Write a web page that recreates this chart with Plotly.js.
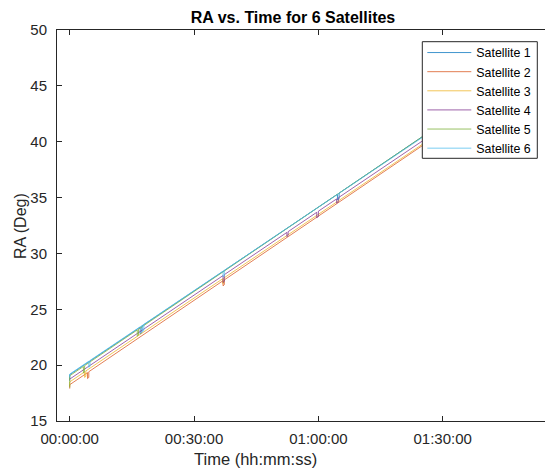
<!DOCTYPE html>
<html>
<head>
<meta charset="utf-8">
<script src="https://cdn.plot.ly/plotly-3.0.1.min.js"></script>
<style>
  html, body { margin: 0; padding: 0; overflow: hidden; background: #fff; }
  #chart { width: 600px; height: 473px; }
</style>
</head>
<body>
<div id="chart"></div>
<script>
// Right ascension of six satellites over a ~100 minute pass.
// Times are minutes after 00:00:00; RA in degrees.
const satNames = ['Satellite 1', 'Satellite 2', 'Satellite 3', 'Satellite 4', 'Satellite 5', 'Satellite 6'];
const satColors = ['#0072BD', '#D95319', '#EDB120', '#7E2F8E', '#77AC30', '#4DBEEE'];

const t1 = [0, 0, 17, 17, 17.4, 17.4, 64.6, 64.6, 65, 65, 100];
const ra1 = [18.6, 19.15, 23.4, 22.8, 22.9, 23.5, 35.3, 34.8, 34.9, 35.4, 44.2];

const t2 = [0, 0, 4.3, 4.3, 4.6, 4.6, 37, 37, 37.3, 37.3, 100];
const ra2 = [17.9, 18.25, 19.33, 18.8, 18.9, 19.41, 27.56, 27.1, 27.2, 27.63, 43.4];

const t3 = [0, 0, 3.6, 3.6, 3.9, 3.9, 36.9, 36.9, 37.2, 37.2, 100];
const ra3 = [18.1, 18.5, 19.4, 18.9, 19.0, 19.48, 27.73, 27.3, 27.4, 27.8, 43.5];

const t4 = [0, 37, 37, 37.3, 37.3, 52.4, 52.4, 52.7, 52.7, 59.6, 59.6, 60, 60, 64.4, 64.4, 64.8, 64.8, 100];
const ra4 = [18.75, 28.02, 27.4, 27.5, 28.1, 31.88, 31.5, 31.6, 31.95, 33.68, 33.2, 33.3, 33.78, 34.88, 34.5, 34.6, 34.98, 43.8];

const t5 = [0, 0, 3.3, 3.3, 3.6, 3.6, 16.3, 16.3, 16.6, 16.6, 100];
const ra5 = [18.0, 19.05, 19.88, 19.3, 19.4, 19.96, 23.15, 22.6, 22.7, 23.22, 44.2];

const t6 = [0, 0, 4.6, 4.6, 4.9, 4.9, 17.6, 17.6, 17.9, 17.9, 37, 37, 37.3, 37.3, 100];
const ra6 = [18.9, 19.2, 20.35, 19.8, 19.9, 20.42, 23.58, 23.0, 23.1, 23.66, 28.41, 27.9, 28.0, 28.48, 44.1];

const satTimes = [t1, t2, t3, t4, t5, t6];
const satRA = [ra1, ra2, ra3, ra4, ra5, ra6];

// minutes -> date string on a fixed reference day, shown as hh:mm:ss
const base = Date.UTC(2000, 0, 1);
function toDate(m) {
  return new Date(base + Math.round(m * 60000)).toISOString().replace('T', ' ').replace('Z', '');
}

const traces = satNames.map((name, i) => ({
  type: 'scatter',
  mode: 'lines',
  name: name,
  x: satTimes[i].map(toDate),
  y: satRA[i],
  line: { color: satColors[i], width: 1 },
  opacity: 0.75,
  hoverinfo: 'skip'
}));

const W = 600, H = 473;
const L = 57, T = 30, R = 40, B = 52;
const plotW = W - L - R, plotH = H - T - B;
const font = 'Liberation Sans, Arial, Helvetica, sans-serif';
const axisColor = '#262626';

// pixel -> paper helpers for placing the legend frame and labels
const px = v => (v - L) / plotW;
const py = v => (T + plotH - v) / plotH;

const layout = {
  width: W,
  height: H,
  margin: { l: L, r: R, t: T, b: B, pad: 0 },
  paper_bgcolor: '#fff',
  plot_bgcolor: '#fff',
  font: { family: font, size: 15, color: axisColor },
  showlegend: true,
  title: {
    text: '<b>RA vs. Time for 6 Satellites</b>',
    font: { family: font, size: 16, color: '#000' },
    xref: 'container', x: 293 / W, xanchor: 'center',
    yref: 'container', y: 1 - 17.5 / H, yanchor: 'middle'
  },
  xaxis: {
    type: 'date',
    range: [toDate(-3.07), toDate(118.3)],
    tick0: toDate(0),
    dtick: 1800000,
    tickformat: '%H:%M:%S',
    ticks: 'inside', ticklen: 5, tickwidth: 1, tickcolor: axisColor,
    showline: true, linecolor: axisColor, linewidth: 1, mirror: 'ticks',
    showgrid: false, zeroline: false,
    tickfont: { family: font, size: 15, color: axisColor },
    ticklabelstandoff: 4
  },
  yaxis: {
    range: [15, 50],
    dtick: 5,
    ticks: 'inside', ticklen: 5, tickwidth: 1, tickcolor: axisColor,
    showline: true, linecolor: axisColor, linewidth: 1, mirror: 'ticks',
    showgrid: false, zeroline: false,
    tickfont: { family: font, size: 15, color: axisColor },
    ticklabelstandoff: 6
  },
  legend: {
    x: px(422.3), xanchor: 'left',
    y: py(38), yanchor: 'top',
    bgcolor: 'rgba(0,0,0,0)', borderwidth: 0,
    font: { family: font, size: 12.4, color: '#000' },
    itemwidth: 44
  },
  shapes: [
    {
      // legend frame, opaque so the lines pass behind it
      type: 'rect', xref: 'paper', yref: 'paper', layer: 'above',
      x0: px(422.3), x1: px(537.3), y0: py(158.3), y1: py(41.7),
      fillcolor: '#fff', line: { color: axisColor, width: 1 }
    }
  ],
  annotations: [
    {
      text: 'Time (hh:mm:ss)', showarrow: false,
      xref: 'paper', yref: 'paper',
      x: px(255.8), xanchor: 'center',
      y: py(459), yanchor: 'middle',
      font: { family: font, size: 16.5, color: axisColor }
    },
    {
      text: 'RA (Deg)', showarrow: false, textangle: -90,
      xref: 'paper', yref: 'paper',
      x: px(20), xanchor: 'center',
      y: py(226), yanchor: 'middle',
      font: { family: font, size: 16, color: axisColor }
    }
  ]
};

Plotly.newPlot('chart', traces, layout, { displayModeBar: false, staticPlot: true });
</script>
</body>
</html>
